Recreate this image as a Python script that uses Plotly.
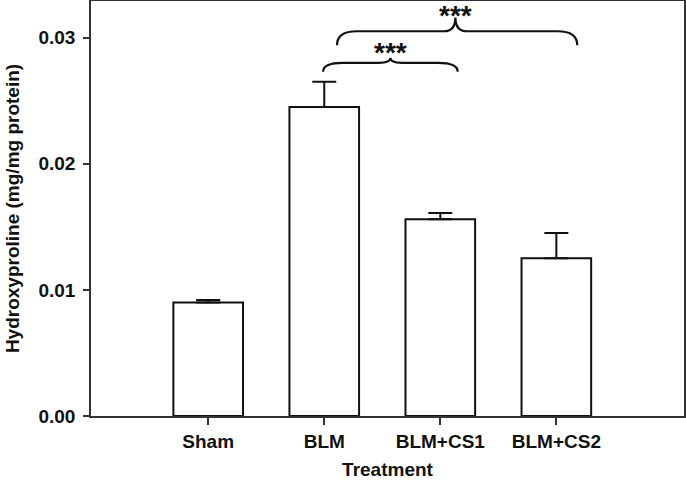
import plotly.graph_objects as go

categories = ["Sham", "BLM", "BLM+CS1", "BLM+CS2"]
means = [0.0090, 0.0245, 0.0156, 0.0125]
sem = [0.0002, 0.0020, 0.0005, 0.0020]
y_ticks = [0.00, 0.01, 0.02, 0.03]
y_tick_labels = ["0.00", "0.01", "0.02", "0.03"]

# significance brackets: (left x, tip x, right x, end y, bar y, tip y, label y, label)
brackets = [
    (0.99, 1.57, 2.15, 0.0273, 0.0280, 0.0284, 0.02925, "***"),
    (1.11, 2.13, 3.18, 0.0294, 0.0305, 0.0316, 0.03214, "***"),
]

FONT = "Liberation Sans, Arial, Helvetica, sans-serif"
xpos = list(range(len(categories)))

fig = go.Figure()
fig.add_trace(go.Bar(
    x=xpos, y=means, width=0.6,
    marker=dict(color="white", line=dict(color="#111111", width=2)),
    error_y=dict(type="data", symmetric=False, array=sem,
                 arrayminus=[0] * len(sem), color="#111111",
                 thickness=2, width=12),
    showlegend=False,
))

shapes = []
annotations = []
for x0, xm, x1, ye, yh, yt, yl, lab in brackets:
    a = 0.17
    b = 0.10
    path = (f"M {x0},{ye} Q {x0},{yh} {x0 + a},{yh} L {xm - b},{yh} "
            f"Q {xm},{yh} {xm},{yt} Q {xm},{yh} {xm + b},{yh} "
            f"L {x1 - a},{yh} Q {x1},{yh} {x1},{ye}")
    shapes.append(dict(type="path", path=path, xref="x", yref="y",
                       line=dict(color="#111111", width=2.2)))
    annotations.append(dict(x=xm, y=yl, xref="x", yref="y", text=lab,
                            showarrow=False, yanchor="middle", yshift=-5,
                            font=dict(family=FONT, size=28, color="#111111",
                                      weight="bold")))

fig.update_layout(
    width=686, height=484,
    margin=dict(l=91, r=2, t=1, b=68),
    plot_bgcolor="white", paper_bgcolor="white",
    shapes=shapes, annotations=annotations,
    font=dict(family=FONT, color="#111111"),
    xaxis=dict(
        range=[-1.01, 4.1], tickmode="array", tickvals=xpos,
        ticktext=categories, ticks="outside", ticklen=7, tickwidth=1.5,
        tickcolor="#333333", showline=True, linecolor="#333333",
        linewidth=1.5, mirror=True, showgrid=False, zeroline=False,
        automargin=False,
        tickfont=dict(family=FONT, size=19, weight="bold", color="#111111"),
        title=dict(text="Treatment", standoff=12,
                   font=dict(family=FONT, size=19, weight="bold",
                             color="#111111")),
    ),
    yaxis=dict(
        range=[0, 0.0329], tickmode="array", tickvals=y_ticks,
        ticktext=y_tick_labels, ticks="outside", ticklen=6, tickwidth=1.5,
        tickcolor="#333333", showline=True, linecolor="#333333",
        linewidth=1.5, mirror=True, showgrid=False, zeroline=False,
        automargin=False, ticklabelstandoff=4,
        tickfont=dict(family=FONT, size=19, weight="bold", color="#111111"),
        title=dict(text="Hydroxyproline (mg/mg protein)", standoff=14,
                   font=dict(family=FONT, size=19, weight="bold",
                             color="#111111")),
    ),
)

fig.write_html("out.html",
               config={"displayModeBar": False},
               post_script="document.body.style.margin='0';"
                           "document.body.style.overflow='hidden';")
